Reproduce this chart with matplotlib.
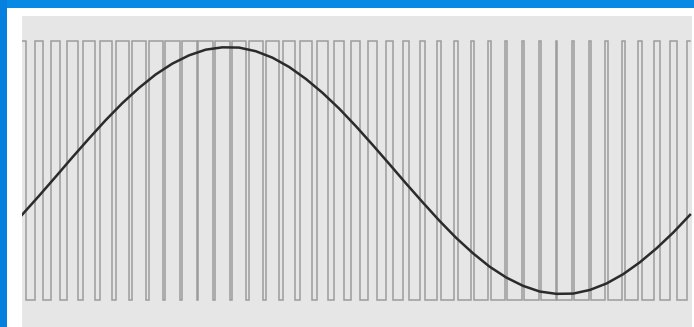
# PWM illustration: sine reference with center-aligned pulse train

import numpy as np
import matplotlib
matplotlib.use('Agg')
import matplotlib.pyplot as plt
from matplotlib.patches import Rectangle

# Duty cycle of each of the 40 PWM periods
duty = [0.476, 0.538, 0.600, 0.660, 0.715, 0.765, 0.809, 0.845, 0.872, 0.890,
        0.899, 0.898, 0.887, 0.867, 0.837, 0.800, 0.754, 0.703, 0.647, 0.587,
        0.524, 0.462, 0.400, 0.340, 0.285, 0.235, 0.191, 0.155, 0.128, 0.110,
        0.101, 0.102, 0.113, 0.133, 0.163, 0.200, 0.246, 0.297, 0.353, 0.413]

# Reference sine level at each period boundary (0 = low, 1 = high)
sine_level = [0.329, 0.401, 0.475, 0.550, 0.623, 0.694, 0.760, 0.819, 0.871, 0.913,
              0.945, 0.967, 0.976, 0.975, 0.961, 0.936, 0.900, 0.854, 0.800, 0.739,
              0.671, 0.599, 0.525, 0.450, 0.377, 0.306, 0.240, 0.181, 0.129, 0.087,
              0.055, 0.033, 0.024, 0.025, 0.039, 0.064, 0.100, 0.146, 0.200, 0.261,
              0.329]

# Build the pulse train: high at both ends of a period, low in the middle
px, py = [], []
for k, d in enumerate(duty):
    a = k + d / 2
    b = k + 1 - d / 2
    px += [k, a, a, b, b, k + 1]
    py += [1, 1, 0, 0, 1, 1]

fig = plt.figure(figsize=(6.94, 3.27), dpi=100, facecolor='white')

# blue window frame along the top and left edge
fig.patches.append(Rectangle((0, 1 - 8 / 327), 1, 8 / 327, transform=fig.transFigure,
                             facecolor='#0789e4', edgecolor='none'))
fig.patches.append(Rectangle((0, 0), 7 / 694, 1, transform=fig.transFigure,
                             facecolor='#0680df', edgecolor='none'))

ax = fig.add_axes([22 / 694, 0, 670 / 694, 311 / 327])
ax.set_facecolor('#e6e6e6')

ax.plot(px, py, color='#9c9c9e', linewidth=1.1, solid_joinstyle='miter')
ax.plot(np.arange(len(sine_level)), sine_level, color='#2b2b2b', linewidth=1.8)

ax.set_xlim(0, 40 * 670 / 668)
ax.set_ylim(-0.104, 1.097)
ax.set_xticks([])
ax.set_yticks([])
for s in ax.spines.values():
    s.set_visible(False)

fig.savefig('out.png', dpi=100, facecolor='white')
